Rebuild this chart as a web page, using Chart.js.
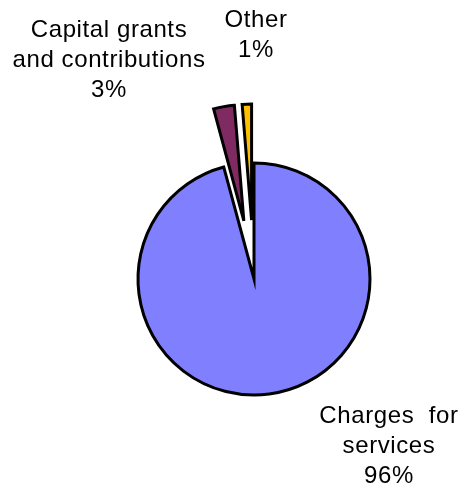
<!DOCTYPE html>
<html>
<head>
<meta charset="utf-8">
<script src="https://cdn.jsdelivr.net/npm/chart.js@4"></script>
<style>
  html, body { margin: 0; padding: 0; background: #fff; }
  canvas { display: block; }
</style>
</head>
<body>
<canvas id="myChart" width="462" height="487"></canvas>
<script>
const categories = ['Charges for services', 'Capital grants and contributions', 'Other'];
const shares = [95.8, 2.9, 1.3];
const shareLabels = ['96%', '3%', '1%'];
const sliceColors = ['#8080FF', '#7F2B62', '#FFC000'];
// label text split into lines, as in the original chart
const labelLines = [
  ['Charges  for', 'services'],
  ['Capital grants', 'and contributions'],
  ['Other'],
];
// label anchor relative to pie centre (x of text centre, first baseline)
const labelAnchors = [[135, 144], [-145, -242], [2, -252]];
// how far each slice is pulled out of the pie, px
const explode = [0, 59, 59];

// pull slices out along their mid angle (chart.js "offset" also narrows them)
const explodeSlices = {
  id: 'explodeSlices',
  afterDatasetsUpdate(chart) {
    chart.getDatasetMeta(0).data.forEach((arc, i) => {
      const mid = (arc.startAngle + arc.endAngle) / 2;
      arc.x += Math.cos(mid) * explode[i];
      arc.y += Math.sin(mid) * explode[i];
    });
  },
};

// draws the slice labels next to the pie
const sliceLabels = {
  id: 'sliceLabels',
  afterDatasetsDraw(chart) {
    const ctx = chart.ctx;
    const arc = chart.getDatasetMeta(0).data[0];
    ctx.save();
    ctx.fillStyle = '#000';
    ctx.font = '24px "Liberation Sans", Arial, sans-serif';
    ctx.textAlign = 'center';
    ctx.textBaseline = 'alphabetic';
    ctx.letterSpacing = '0.6px';
    categories.forEach((c, i) => {
      const lines = labelLines[i].concat([shareLabels[i]]);
      const x = arc.x + labelAnchors[i][0];
      let y = arc.y + labelAnchors[i][1];
      lines.forEach(line => {
        ctx.fillText(line, x, y);
        y += 30;
      });
    });
    ctx.restore();
  },
};

const config = {
  type: 'pie',
  data: {
    labels: categories,
    datasets: [{
      data: shares,
      backgroundColor: sliceColors,
      borderColor: '#000',
      borderWidth: 3,
      borderJoinStyle: 'miter',
    }],
  },
  options: {
    responsive: false,
    animation: false,
    events: [],
    devicePixelRatio: 1,
    radius: 116,
    layout: { padding: { left: 46, right: 0, top: 71, bottom: 0 } },
    plugins: {
      legend: { display: false },
      tooltip: { enabled: false },
    },
  },
  plugins: [explodeSlices, sliceLabels],
};

const myChart = new Chart(document.getElementById('myChart'), config);
</script>
</body>
</html>
